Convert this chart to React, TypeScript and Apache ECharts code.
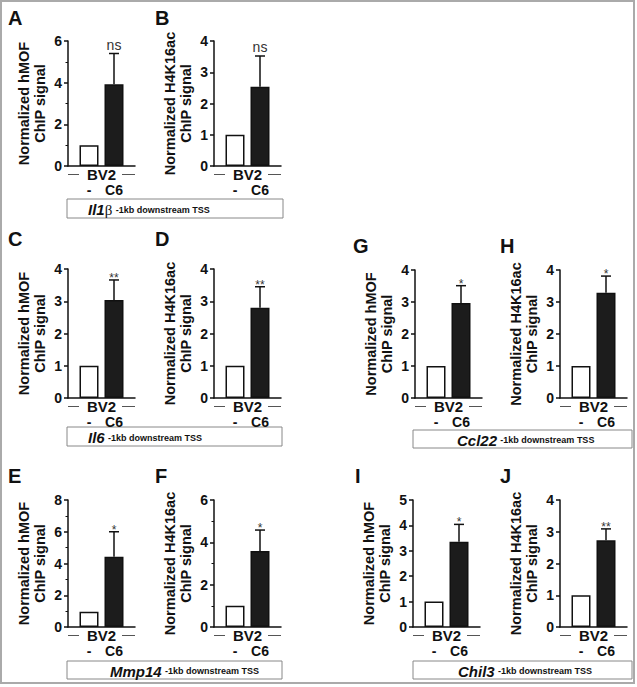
import React, { useEffect, useRef } from "react";
import * as echarts from "echarts";

// ---- data ----
const PANELS = ["A", "B", "C", "D", "E", "F", "G", "H", "I", "J"];
const GROUPS = ["-", "C6"];
const CELL_LINE = "BV2";
const Y_TITLES = [
  "Normalized hMOF\nChIP signal",
  "Normalized H4K16ac\nChIP signal",
];
const CTRL = [1.0, 1.0, 1.0, 1.0, 0.96, 1.0, 1.0, 1.0, 1.0, 1.0];
const C6 = [3.93, 2.54, 3.04, 2.8, 4.43, 3.59, 2.97, 3.29, 3.36, 2.73];
const SEM = [1.47, 0.98, 0.62, 0.65, 1.57, 0.99, 0.54, 0.52, 0.68, 0.36];
const SIG = ["ns", "ns", "**", "**", "*", "*", "*", "*", "*", "**"];
const Y_MAX = [6, 4, 4, 4, 8, 6, 4, 4, 5, 4];
const Y_STEP = [2, 1, 1, 1, 2, 2, 1, 1, 1, 1];
const GENES = ["Il1β", "Il6", "Mmp14", "Ccl22", "Chil3"];
const REGION = "-1kb downstream TSS";

// ---- layout ----
const FONT = "'Liberation Sans', Arial, Helvetica, sans-serif";
const X_MIN = 0.16;
const X_MAX = 2.84;
const GRID_W = 67;
const LAYOUT = [
  { l: 68, t: 41, b: 166, lx: 8, ly: 18 },
  { l: 214, t: 41, b: 166, lx: 155, ly: 18 },
  { l: 68, t: 269, b: 398, lx: 8, ly: 239 },
  { l: 214, t: 269, b: 398, lx: 155, ly: 239 },
  { l: 68, t: 500, b: 627, lx: 8, ly: 476 },
  { l: 214, t: 500, b: 627, lx: 155, ly: 476 },
  { l: 415, t: 270, b: 398, lx: 353, ly: 246 },
  { l: 560, t: 270, b: 398, lx: 500, ly: 246 },
  { l: 413, t: 500, b: 627, lx: 355, ly: 476 },
  { l: 560, t: 500, b: 627, lx: 500, ly: 476 },
];
const BOXES = [
  { x: 67, y: 199, w: 216, h: 19, tx: 88 },
  { x: 67, y: 427, w: 215, h: 19, tx: 88 },
  { x: 67, y: 661, w: 215, h: 18, tx: 110 },
  { x: 413, y: 430, w: 219, h: 18, tx: 457 },
  { x: 413, y: 661, w: 219, h: 18, tx: 458 },
];

const INK = "#111";

function buildOption() {
  const grid = LAYOUT.map((L) => ({
    left: L.l,
    top: L.t,
    width: GRID_W,
    height: L.b - L.t,
  }));
  const xAxis = LAYOUT.map((_, i) => ({
    gridIndex: i,
    type: "value",
    min: X_MIN,
    max: X_MAX,
    axisLine: { show: true, onZero: false, lineStyle: { color: INK, width: 1.5 } },
    axisTick: { show: false },
    splitLine: { show: false },
    axisLabel: {
      customValues: [1, 2],
      formatter: (v: number) => GROUPS[Math.round(v) - 1] ?? "",
      margin: 17,
      fontSize: 14,
      fontWeight: "bold",
      color: INK,
      fontFamily: FONT,
      lineHeight: 14,
    },
  }));
  const yAxis = LAYOUT.map((_, i) => ({
    gridIndex: i,
    type: "value",
    min: 0,
    max: Y_MAX[i],
    interval: Y_STEP[i],
    name: Y_TITLES[i % 2],
    nameLocation: "middle",
    nameRotate: 90,
    nameGap: 20,
    nameTextStyle: {
      fontSize: 14.5,
      fontWeight: "bold",
      color: INK,
      fontFamily: FONT,
      lineHeight: 16,
    },
    axisLine: { show: true, lineStyle: { color: INK, width: 1.5 } },
    axisTick: { show: true, length: 4, lineStyle: { color: INK, width: 1.5 } },
    minorTick: {
      show: Y_STEP[i] === 2,
      splitNumber: 2,
      length: 2.5,
      lineStyle: { color: INK, width: 1 },
    },
    splitLine: { show: false },
    axisLabel: {
      margin: 6,
      fontSize: 14,
      fontWeight: "bold",
      color: INK,
      fontFamily: FONT,
    },
  }));

  const series: any[] = [];
  LAYOUT.forEach((_, i) => {
    series.push({
      type: "bar",
      xAxisIndex: i,
      yAxisIndex: i,
      barWidth: 19,
      itemStyle: { borderColor: INK, borderWidth: 1.5 },
      data: [
        { value: [1, CTRL[i]], itemStyle: { color: "#ffffff" } },
        { value: [2, C6[i]], itemStyle: { color: "#1c1c1c" } },
      ],
    });
    const sig = SIG[i];
    series.push({
      type: "custom",
      xAxisIndex: i,
      yAxisIndex: i,
      clip: false,
      data: [[2, C6[i], C6[i] + SEM[i]]],
      renderItem: (params: any, api: any) => {
        const x = api.value(0);
        const base = api.coord([x, api.value(1)]);
        const top = api.coord([x, api.value(2)]);
        const c1 = api.coord([1, 0]);
        const c2 = api.coord([2, 0]);
        const a0 = api.coord([X_MIN, 0]);
        const a1 = api.coord([X_MAX, 0]);
        const isNs = sig === "ns";
        const ly = c1[1] + 8.5;
        return {
          type: "group",
          children: [
            {
              type: "line",
              shape: { x1: base[0], y1: base[1], x2: top[0], y2: top[1] },
              style: { stroke: INK, lineWidth: 1.5 },
            },
            {
              type: "line",
              shape: { x1: top[0] - 5, y1: top[1], x2: top[0] + 5, y2: top[1] },
              style: { stroke: INK, lineWidth: 1.5 },
            },
            {
              type: "text",
              x: top[0],
              y: top[1] - 2,
              style: {
                text: sig,
                fill: "#333",
                fontSize: isNs ? 14 : 12,
                fontFamily: FONT,
                align: "center",
                verticalAlign: isNs ? "bottom" : "middle",
              },
            },
            {
              type: "text",
              x: (c1[0] + c2[0]) / 2,
              y: ly,
              style: {
                text: CELL_LINE,
                fill: INK,
                fontSize: 15,
                lineHeight: 15,
                fontWeight: "bold",
                fontFamily: FONT,
                align: "center",
                verticalAlign: "middle",
              },
            },
            {
              type: "line",
              shape: { x1: a0[0], y1: ly, x2: a0[0] + 11, y2: ly },
              style: { stroke: "#555", lineWidth: 1 },
            },
            {
              type: "line",
              shape: { x1: a1[0] - 13, y1: ly, x2: a1[0], y2: ly },
              style: { stroke: "#555", lineWidth: 1 },
            },
          ],
        };
      },
    });
  });

  const graphic: any[] = [
    {
      type: "rect",
      shape: { x: 1, y: 1, width: 633, height: 682 },
      style: { fill: "none", stroke: "#aaa", lineWidth: 2 },
      silent: true,
    },
  ];
  LAYOUT.forEach((L, i) => {
    graphic.push({
      type: "text",
      x: L.lx,
      y: L.ly,
      style: {
        text: PANELS[i],
        fill: INK,
        fontSize: 20,
        fontWeight: "bold",
        fontFamily: FONT,
        align: "left",
        verticalAlign: "middle",
      },
    });
  });
  BOXES.forEach((B, k) => {
    const gene = GENES[k];
    const greek = gene.endsWith("β");
    const main = greek ? gene.slice(0, -1) : gene;
    const txt = greek
      ? `{g|${main}}{b|β} {s|${REGION}}`
      : `{g|${main}} {s|${REGION}}`;
    graphic.push({
      type: "rect",
      shape: { x: B.x, y: B.y, width: B.w, height: B.h },
      style: { fill: "#fff", stroke: "#888", lineWidth: 1 },
    });
    graphic.push({
      type: "text",
      x: B.tx,
      y: B.y + B.h / 2 + 1,
      style: {
        text: txt,
        fill: INK,
        align: "left",
        verticalAlign: "middle",
        rich: {
          g: {
            fontSize: 15,
            fontWeight: "bold",
            fontStyle: "italic",
            fontFamily: FONT,
            fill: INK,
            lineHeight: 14,
          },
          b: {
            fontSize: 15,
            fontFamily: "'Liberation Serif', serif",
            fill: INK,
            lineHeight: 14,
          },
          s: {
            fontSize: 9,
            fontWeight: "bold",
            fontFamily: FONT,
            fill: INK,
            lineHeight: 14,
          },
        },
      },
    });
  });

  return {
    animation: false,
    backgroundColor: "#ffffff",
    textStyle: { fontFamily: FONT },
    grid,
    xAxis,
    yAxis,
    series,
    graphic,
  };
}

export default function App() {
  const ref = useRef<HTMLDivElement>(null);
  useEffect(() => {
    if (!ref.current) return;
    const chart = echarts.init(ref.current, undefined, { renderer: "svg" });
    chart.setOption(buildOption() as any);
    return () => chart.dispose();
  }, []);
  return (
    <div
      ref={ref}
      style={{
        position: "fixed",
        left: 0,
        top: 0,
        width: 637,
        height: 687,
        background: "#fff",
      }}
    />
  );
}
